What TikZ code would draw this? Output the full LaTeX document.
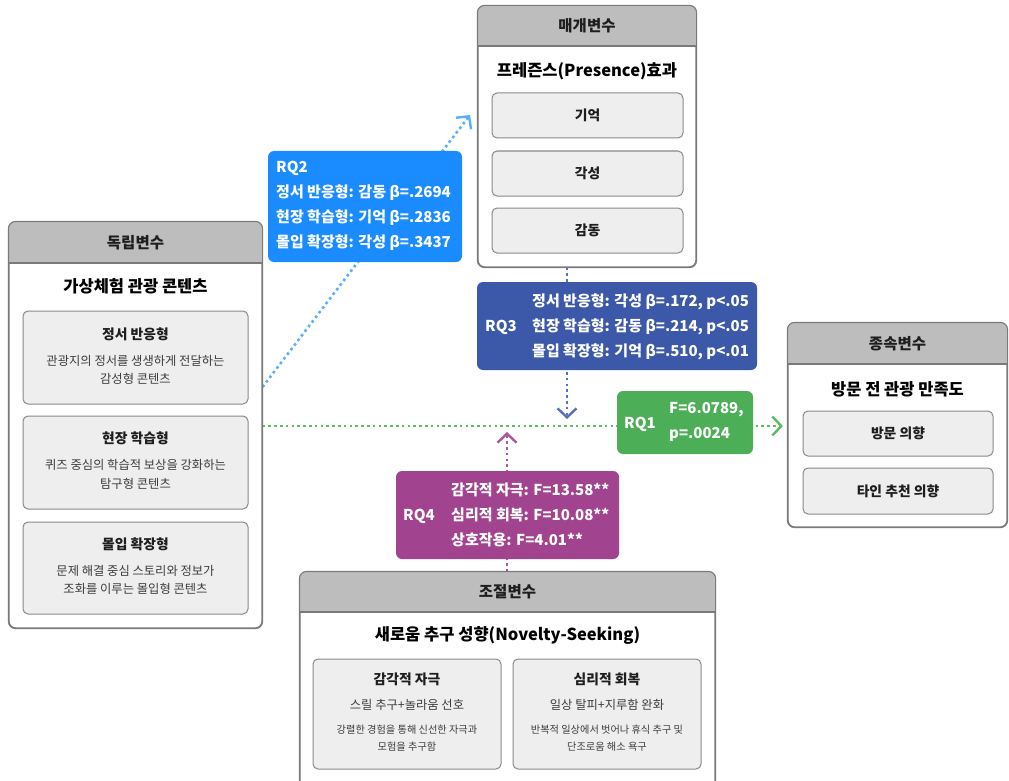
\documentclass[tikz,border=0pt]{standalone}
\usepackage{fontspec}
\setmainfont{Noto Sans CJK KR}
\usetikzlibrary{arrows.meta}
\pgfdeclarelayer{back}
\pgfdeclarelayer{bg}
\pgfsetlayers{back,bg,main}
\definecolor{hdr}{HTML}{BDBDBD}
\definecolor{inn}{HTML}{EEEEEE}
\definecolor{bord}{HTML}{7A7A7A}
\definecolor{inbord}{HTML}{8A8A8A}
\definecolor{txt}{HTML}{1E1E1E}
\definecolor{desctxt}{HTML}{3C3C3C}
\definecolor{rqtwo}{HTML}{1A8CFF}
\definecolor{rqtwoline}{HTML}{5AAEFF}
\definecolor{rqthree}{HTML}{3C58A8}
\definecolor{rqthreeline}{HTML}{5670BC}
\definecolor{rqone}{HTML}{4CAF57}
\definecolor{rqoneline}{HTML}{5DBB66}
\definecolor{rqfour}{HTML}{A1438F}
\definecolor{rqfourline}{HTML}{B055A0}
\begin{document}
\begin{tikzpicture}[x=1pt,y=-1pt,
  outer/.style={draw=bord,line width=1.1pt,fill=white,rounded corners=7pt,inner sep=0pt},
  inbox/.style={draw=inbord,line width=1pt,fill=inn,rounded corners=5pt,inner sep=0pt},
  hdrtxt/.style={font=\fontsize{15.5}{18}\selectfont\bfseries,text=txt,inner sep=0pt},
  ttl/.style={font=\fontsize{16.5}{20}\selectfont\bfseries,text=black,inner sep=0pt},
  lbl/.style={font=\fontsize{13.8}{16}\selectfont\bfseries,text=txt,inner sep=0pt},
  desc/.style={font=\fontsize{12.3}{18.5}\selectfont,text=desctxt,align=center,inner sep=0pt},
  small/.style={font=\fontsize{10.2}{17}\selectfont,text=desctxt,align=center,inner sep=0pt},
  rq/.style={rounded corners=6pt,inner sep=0pt},
  rqtxt/.style={text=white,font=\fontsize{15}{25}\selectfont\bfseries,inner sep=0pt,align=left,anchor=west},
  link/.style={line width=2.6pt,dash pattern=on 2.6pt off 3.2pt,-{Straight Barb[length=9pt,width=19pt,line width=2.4pt]}}
]
\path[use as bounding box,clip] (0,0) rectangle (1009,781);
\begin{pgfonlayer}{back}
\fill[white] (0,0) rectangle (1009,781);
\end{pgfonlayer}

% ---------- mediator box ----------
\node[outer,minimum width=218pt,minimum height=261pt] (med) at (587,136.5) {};
\begin{scope}
\clip[rounded corners=7pt] (med.north west) rectangle (med.south east);
\fill[hdr] (med.north west) rectangle (med.east |- 0,46);
\end{scope}
\draw[bord,line width=1.1pt] (med.west |- 0,46) -- (med.east |- 0,46);
\draw[bord,line width=1.1pt,rounded corners=7pt] (med.north west) rectangle (med.south east);
\node[hdrtxt] (medh) at (587,26) {매개변수};
\node[ttl] (medt) at (587,71) {프레즌스(Presence)효과};
\node[inbox,minimum width=191pt,minimum height=45pt] (mem) at (587.5,115.5) {};
\node[lbl] at (mem) {기억};
\node[inbox,minimum width=191pt,minimum height=45pt] (aro) at (587.5,173.5) {};
\node[lbl] at (aro) {각성};
\node[inbox,minimum width=191pt,minimum height=45pt] (emo) at (587.5,230.5) {};
\node[lbl] at (emo) {감동};

% ---------- independent box ----------
\node[outer,minimum width=253pt,minimum height=406pt] (indep) at (135.5,425) {};
\begin{scope}
\clip[rounded corners=7pt] (indep.north west) rectangle (indep.south east);
\fill[hdr] (indep.north west) rectangle (indep.east |- 0,263);
\end{scope}
\draw[bord,line width=1.1pt] (indep.west |- 0,263) -- (indep.east |- 0,263);
\draw[bord,line width=1.1pt,rounded corners=7pt] (indep.north west) rectangle (indep.south east);
\node[hdrtxt] (indeph) at (135.5,243) {독립변수};
\node[ttl] (indept) at (135.5,286) {가상체험 관광 콘텐츠};
\node[inbox,minimum width=225pt,minimum height=93pt] (ib1) at (135.5,357.5) {};
\node[lbl] (ib1t) at (135.5,334) {정서 반응형};
\node[desc] (ib1d) at (135.5,370) {관광지의 정서를 생생하게 전달하는\\감성형 콘텐츠};
\node[inbox,minimum width=225pt,minimum height=93pt] (ib2) at (135.5,462.5) {};
\node[lbl] (ib2t) at (135.5,438.5) {현장 학습형};
\node[desc] (ib2d) at (135.5,474.5) {퀴즈 중심의 학습적 보상을 강화하는\\탐구형 콘텐츠};
\node[inbox,minimum width=225pt,minimum height=92pt] (ib3) at (135.5,568) {};
\node[lbl] (ib3t) at (135.5,544) {몰입 확장형};
\node[desc] (ib3d) at (135.5,580) {문제 해결 중심 스토리와 정보가\\조화를 이루는 몰입형 콘텐츠};

% ---------- dependent box ----------
\node[outer,minimum width=219pt,minimum height=204pt] (dep) at (897.5,425) {};
\begin{scope}
\clip[rounded corners=7pt] (dep.north west) rectangle (dep.south east);
\fill[hdr] (dep.north west) rectangle (dep.east |- 0,364);
\end{scope}
\draw[bord,line width=1.1pt] (dep.west |- 0,364) -- (dep.east |- 0,364);
\draw[bord,line width=1.1pt,rounded corners=7pt] (dep.north west) rectangle (dep.south east);
\node[hdrtxt] (deph) at (897.5,343.5) {종속변수};
\node[ttl] (dept) at (897.5,389) {방문 전 관광 만족도};
\node[inbox,minimum width=190pt,minimum height=45pt] (vis) at (898,433.5) {};
\node[lbl] at (vis) {방문 의향};
\node[inbox,minimum width=190pt,minimum height=46pt] (rec) at (898,491) {};
\node[lbl] at (rec) {타인 추천 의향};

% ---------- moderator box ----------
\node[outer,minimum width=415pt,minimum height=228pt] (mod) at (507.5,686) {};
\begin{scope}
\clip[rounded corners=7pt] (mod.north west) rectangle (mod.south east);
\fill[hdr] (mod.north west) rectangle (mod.east |- 0,612);
\end{scope}
\draw[bord,line width=1.1pt] (mod.west |- 0,612) -- (mod.east |- 0,612);
\draw[bord,line width=1.1pt,rounded corners=7pt] (mod.north west) rectangle (mod.south east);
\node[hdrtxt] (modh) at (507.5,592) {조절변수};
\node[ttl] (modt) at (507.5,635) {새로움 추구 성향(Novelty-Seeking)};
\node[inbox,minimum width=188pt,minimum height=110pt] (mb1) at (407,714) {};
\node[lbl] (mb1t) at (407,679) {감각적 자극};
\node[desc] (mb1s) at (407,705) {스릴 추구+놀라움 선호};
\node[small] (mb1d) at (407,738.5) {강렬한 경험을 통해 신선한 자극과\\모험을 추구함};
\node[inbox,minimum width=188pt,minimum height=110pt] (mb2) at (607,714) {};
\node[lbl] (mb2t) at (607,679) {심리적 회복};
\node[desc] (mb2s) at (607,705) {일상 탈피+지루함 완화};
\node[small] (mb2d) at (607,738.5) {반복적 일상에서 벗어나 휴식 추구 및\\단조로움 해소 욕구};

% ---------- RQ boxes ----------
\node[rq,fill=rqtwo,minimum width=194pt,minimum height=111pt] (rq2) at (365,206.5) {};
\node[rqtxt] (rq2t) at (276,206) {RQ2\\정서 반응형: 감동 β=.2694\\현장 학습형: 기억 β=.2836\\몰입 확장형: 각성 β=.3437};

\node[rq,fill=rqthree,minimum width=280pt,minimum height=88pt] (rq3) at (617,326) {};
\node[rqtxt] (rq3l) at (485,327) {RQ3};
\node[rqtxt] (rq3t) at (532,327) {정서 반응형: 각성 β=.172, p<.05\\현장 학습형: 감동 β=.214, p<.05\\몰입 확장형: 기억 β=.510, p<.01};

\node[rq,fill=rqone,minimum width=136pt,minimum height=63pt] (rq1) at (685,422.5) {};
\node[rqtxt] (rq1l) at (624,424) {RQ1};
\node[rqtxt] (rq1t) at (669,422) {F=6.0789,\\p=.0024};

\node[rq,fill=rqfour,minimum width=223pt,minimum height=88pt] (rq4) at (507.5,515) {};
\node[rqtxt] (rq4l) at (403,516) {RQ4};
\node[rqtxt] (rq4t) at (451,515) {감각적 자극: F=13.58**\\심리적 회복: F=10.08**\\상호작용: F=4.01**};

% ---------- connectors ----------
\coordinate (t2) at (470,115);
\coordinate (t3) at (567,419);
\coordinate (t4) at (507,432);
\begin{pgfonlayer}{bg}
\draw[link,rqtwoline] (indep.east |- 0,387) -- (t2);
\draw[link,rqoneline,shorten >=4.5pt] (indep.east |- 0,426) -- (dep.west |- 0,426);
\draw[link,rqthreeline] (med.south -| 567,0) -- (t3);
\draw[link,rqfourline] (mod.north -| 507,0) -- (t4);
\end{pgfonlayer}
\end{tikzpicture}
\end{document}
